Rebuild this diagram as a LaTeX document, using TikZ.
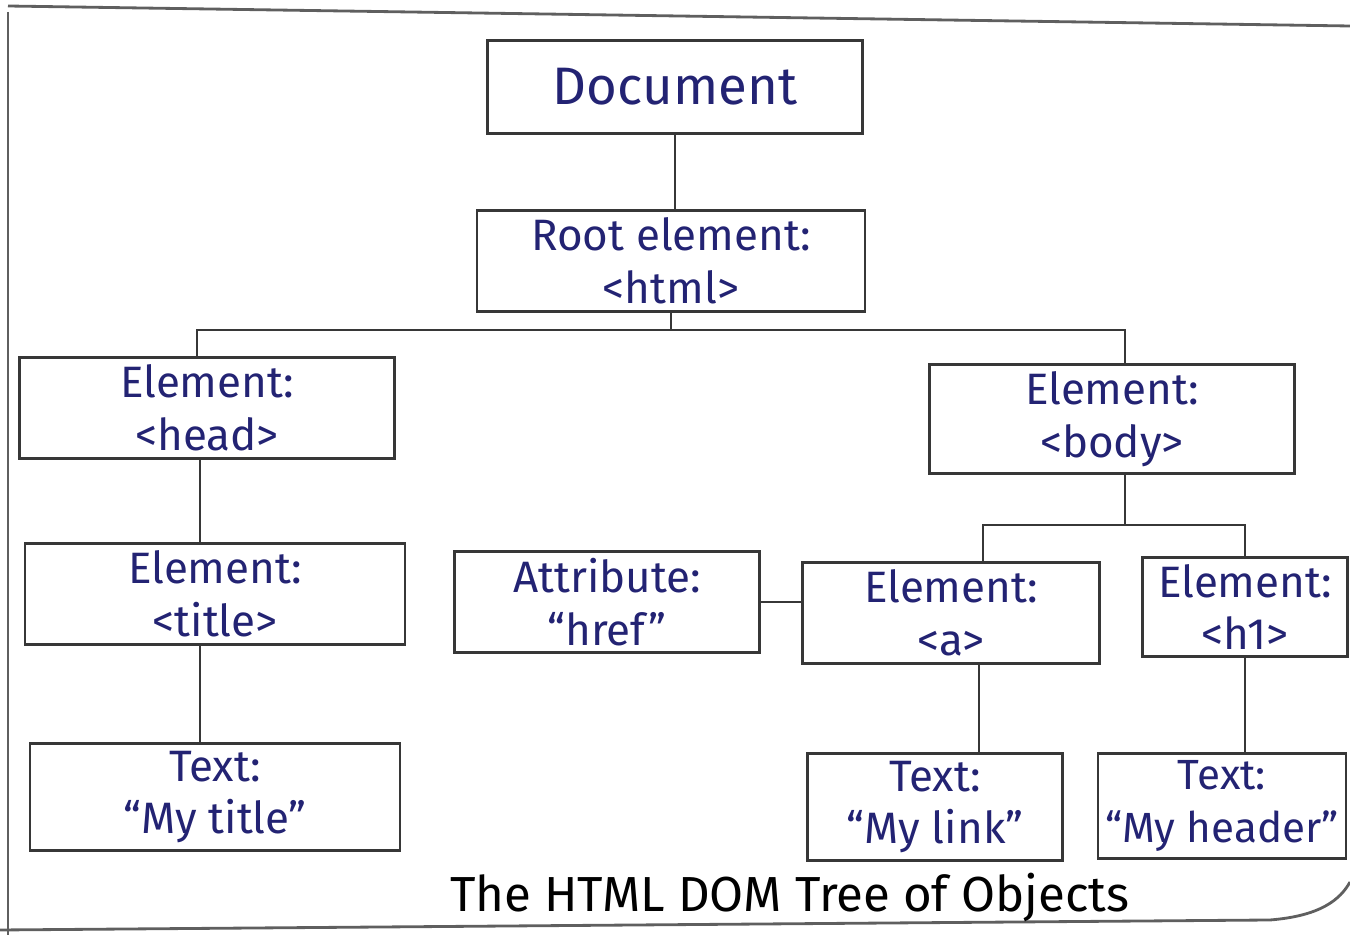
\documentclass[tikz,border=0pt]{standalone}
\usepackage{fontspec}
\setmainfont{Fira Sans}
\definecolor{ink}{RGB}{35,35,115}
\definecolor{pencil}{RGB}{55,55,55}
\begin{document}
\begin{tikzpicture}[x=0.01cm,y=-0.01cm,
  box/.style={draw=pencil,line width=0.8pt,rectangle,inner sep=2pt,align=center,
    text=ink,font=\fontsize{12.5}{15}\selectfont},
  sz/.style 2 args={minimum width=#1*0.01cm,minimum height=#2*0.01cm},
  link/.style={draw=pencil,line width=0.8pt},
  frame/.style={draw=pencil!80,line width=0.8pt}]
\useasboundingbox (0,0) rectangle (1350,940);
% frame
\draw[frame] (8,6) -- (1350,26);
\draw[frame] (8,12) -- (8,935);
\draw[frame] (0,930) -- (1270,920) .. controls (1320,916) and (1340,900) .. (1350,882);
% nodes
\node[box,sz={375}{93},font=\fontsize{15}{17}\selectfont] (doc) at (675,87) {Document};
\node[box,sz={388}{92}] (root) at (671,261) {Root element:\\<html>};
\node[box,sz={375}{93}] (head) at (207,408) {Element:\\<head>};
\node[box,sz={365}{88}] (body) at (1112,419) {Element:\\<body>};
\node[box,sz={380}{92}] (title) at (215,594) {Element:\\<title>};
\node[box,sz={305}{95}] (attr) at (607,602) {Attribute:\\“href”};
\node[box,sz={297}{87}] (a) at (951,613) {Element:\\<a>};
\node[box,sz={205}{85}] (h1) at (1245,607) {Element:\\<h1>};
\node[box,sz={370}{91}] (ttitle) at (215,797) {Text:\\“My title”};
\node[box,sz={255}{80}] (tlink) at (935,807) {Text:\\“My link”};
\node[box,sz={245}{83},font=\fontsize{12}{15}\selectfont] (thead) at (1222,806) {Text:\\“My header”};
% junctions
\coordinate (j1) at (685,330);
\coordinate (j2) at (1125,525);
% connectors
\draw[link] (doc.south) -- (doc.south |- root.north);
\draw[link] (root.south) -- (root.south |- j1);
\draw[link] ([xshift=-0.1cm]head.north) |- (j1) -| ([xshift=0.13cm]body.north);
\draw[link] ([xshift=-0.07cm]head.south) -- ([xshift=-0.07cm]head.south |- title.north);
\draw[link] ([xshift=-0.15cm]title.south) -- ([xshift=-0.15cm]title.south |- ttitle.north);
\draw[link] ([xshift=0.13cm]body.south) -- ([xshift=0.13cm]body.south |- j2);
\draw[link] ([xshift=0.32cm]a.north) |- (j2) -| (h1.north);
\draw[link] (attr.east) -- (attr.east -| a.west);
\draw[link] ([xshift=0.28cm]a.south) -- ([xshift=0.28cm]a.south |- tlink.north);
\draw[link] (h1.south) -- (h1.south |- thead.north);
% caption
\node[font=\fontsize{14}{16}\selectfont,text=black,anchor=base] (cap) at (790,912) {The HTML DOM Tree of Objects};
\end{tikzpicture}
\end{document}
